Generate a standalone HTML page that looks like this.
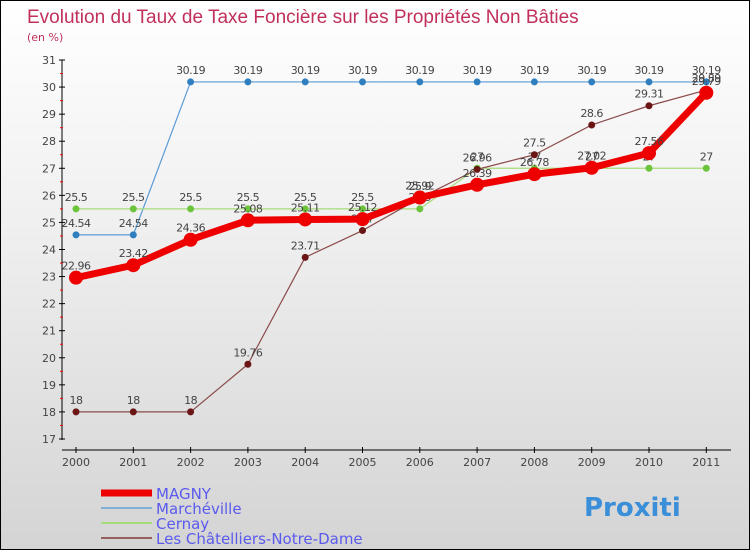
<!DOCTYPE html>
<html><head><meta charset="utf-8"><style>
body{margin:0}
#c{width:748px;height:548px;border:1px solid #000;background:linear-gradient(#fff,#f0f0f0 40%,#d4d4d4);position:relative;font-family:"DejaVu Sans","Liberation Sans",sans-serif;overflow:hidden}
</style></head><body>
<div id="c">
<svg id="s" width="748" height="548">
<text x="26" y="22" font-size="19" fill="#c0305a" font-family="Liberation Sans, sans-serif" font-weight="300">Evolution du Taux de Taxe Foncière sur les Propriétés Non Bâties</text>
<text x="26" y="40" font-size="11" fill="#c0305a">(en %)</text>
<g id="g"></g>
</svg>
</div>
<script>
const years=["2000","2001","2002","2003","2004","2005","2006","2007","2008","2009","2010","2011"];
const magny=[22.96,23.42,24.36,25.08,25.11,25.12,25.92,26.39,26.78,27.02,27.56,29.79];
const marche=[24.54,24.54,30.19,30.19,30.19,30.19,30.19,30.19,30.19,30.19,30.19,30.19];
const cernay=[25.5,25.5,25.5,25.5,25.5,25.5,25.5,27,27,27,27,27];
const chat=[18,18,18,19.76,23.71,24.7,25.9,26.96,27.5,28.6,29.31,29.89];
const yTicks=[17,18,19,20,21,22,23,24,25,26,27,28,29,30,31];
const X=i=>75+i*57.3, Y=v=>59+(31-v)*27.07;
const g=document.getElementById('g'),NS='http://www.w3.org/2000/svg';
function mk(t,a,p){const e=document.createElementNS(NS,t);for(const k in a)e.setAttribute(k,a[k]);(p||g).appendChild(e);return e;}
let ax=mk('line',{x1:61,y1:59,x2:61,y2:439,stroke:'#000'});

let bx=mk('line',{x1:61,y1:449,x2:730,y2:449,stroke:'#000'});

yTicks.forEach(v=>{mk('line',{x1:58,y1:Y(v),x2:64,y2:Y(v),stroke:'#000'});
 if(v<31)mk('line',{x1:59,y1:Y(v+0.5),x2:62,y2:Y(v+0.5),stroke:'red'});
 const t=mk('text',{x:55,y:Y(v)+4,'font-size':11,fill:'#444','text-anchor':'end'});t.textContent=v;
 });
years.forEach((y,i)=>{mk('line',{x1:X(i),y1:446,x2:X(i),y2:452,stroke:'#000'});
 const t=mk('text',{x:X(i),y:465,'font-size':11,fill:'#444','text-anchor':'middle'});t.textContent=y;
 });
function series(d,col,w,r,dot,name){
 const p=mk('polyline',{points:d.map((v,i)=>X(i)+','+Y(v)).join(' '),fill:'none',stroke:col,'stroke-width':w,'stroke-linejoin':'round'});
 
 d.forEach((v,i)=>{const c=mk('circle',{cx:X(i),cy:Y(v),r:r,fill:dot});
  
  const t=mk('text',{x:X(i),y:Y(v)-8,'font-size':11,fill:'#444','text-anchor':'middle','letter-spacing':'-0.5'});t.textContent=v;
  });
}
series(marche,'#5b9bd5',1.2,3.5,'#2f7fc0','marcheville');
series(cernay,'#a8dc7a',1.2,3.5,'#6cc43c','cernay');
series(chat,'#8b4a4a',1.2,3.5,'#6b1515','chatelliers');
series(magny,'#ee0000',7,7,'#ee0000','magny');
const leg=[['MAGNY','#ee0000',7],['Marchéville','#7fb0d8',2],['Cernay','#a8dc7a',2],['Les Châtelliers-Notre-Dame','#946060',2]];
leg.forEach((l,i)=>{const y=492+i*15;
 const ln=mk('line',{x1:100,y1:y,x2:151,y2:y,stroke:l[1],'stroke-width':l[2]});
 
 const t=mk('text',{x:155,y:y+6,'font-size':15,fill:'#5a5aee'});t.textContent=l[0];
 });
const lg=mk('text',{x:583,y:515,'font-size':26,'font-weight':'bold',fill:'#3a8fd8'});lg.textContent='Proxiti';

</script>
</body></html>
